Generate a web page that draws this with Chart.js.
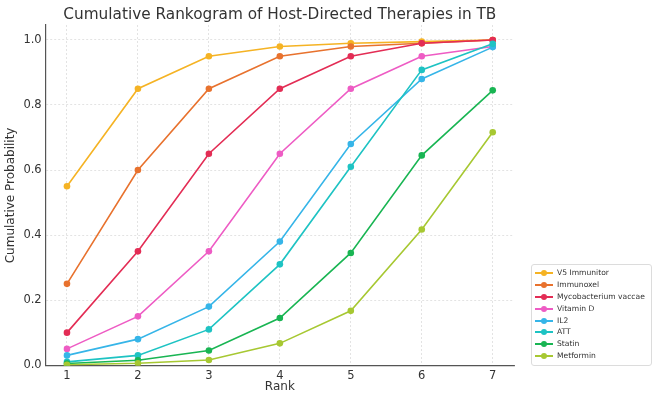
<!DOCTYPE html>
<html>
<head>
<meta charset="utf-8">
<script src="https://cdn.jsdelivr.net/npm/chart.js@4.4.1/dist/chart.umd.min.js"></script>
<style>
    html, body { margin: 0; padding: 0; background: #fff; }
    #wrap { position: relative; width: 655px; height: 394px; }
    #legend {
        position: absolute; left: 531px; top: 264px; width: 119px;
        border: 1px solid #dcdcdc; border-radius: 3px; background: #fff;
        padding: 2px 0 3px 0; font-family: "DejaVu Sans", sans-serif; font-size: 7.6px; color: #333;
    }
    .lg-row { position: relative; height: 11.9px; line-height: 11.9px; padding-left: 25px; white-space: nowrap; }
    .lg-line { position: absolute; left: 3px; top: 5px; width: 18px; height: 2px; }
    .lg-dot { position: absolute; left: 9px; top: 3px; width: 6px; height: 6px; border-radius: 50%; }
</style>
</head>
<body>
<div id="wrap">
    <canvas id="chart" width="655" height="394"></canvas>
    <div id="legend"></div>
</div>
<script>
// ==================== 数据 ====================
const ranks = [1, 2, 3, 4, 5, 6, 7];
const yTicks = [0, 0.2, 0.4, 0.6, 0.8, 1.0];

const therapyNames = ['V5 Immunitor', 'Immunoxel', 'Mycobacterium vaccae', 'Vitamin D', 'IL2', 'ATT', 'Statin', 'Metformin'];
const therapyColors = ['#f5b324', '#e8722e', '#e32d55', '#ee5cc4', '#36b5e8', '#1ec3c3', '#19b553', '#a7c832'];

const v5Immunitor = [0.55, 0.85, 0.95, 0.98, 0.99, 0.995, 1.0];
const immunoxel   = [0.25, 0.60, 0.85, 0.95, 0.98, 0.99, 1.0];
const mycoVaccae  = [0.10, 0.35, 0.65, 0.85, 0.95, 0.99, 1.0];
const vitaminD    = [0.05, 0.15, 0.35, 0.65, 0.85, 0.95, 0.98];
const il2         = [0.03, 0.08, 0.18, 0.38, 0.68, 0.88, 0.978];
const att         = [0.01, 0.03, 0.11, 0.31, 0.61, 0.908, 0.988];
const statin      = [0.005, 0.015, 0.045, 0.145, 0.345, 0.645, 0.845];
const metformin   = [0.001, 0.006, 0.016, 0.067, 0.167, 0.417, 0.716];

const seriesValues = [v5Immunitor, immunoxel, mycoVaccae, vitaminD, il2, att, statin, metformin];

// ==================== 数据集 ====================
const datasets = therapyNames.map((name, i) => ({
    label: name,
    data: ranks.map((r, j) => ({ x: r, y: seriesValues[i][j] })),
    borderColor: therapyColors[i],
    backgroundColor: therapyColors[i],
    borderWidth: 1.6,
    pointRadius: 3.3,
    pointBorderWidth: 0,
    tension: 0,
    order: therapyNames.length - i   // 后面的系列画在上面
}));

// ==================== 标题（居中于绘图区） ====================
const centerTitle = {
    id: 'centerTitle',
    afterDraw(chart) {
        const { ctx, chartArea } = chart;
        ctx.save();
        ctx.font = '15.3px "DejaVu Sans", sans-serif';
        ctx.fillStyle = '#333';
        ctx.textAlign = 'center';
        ctx.textBaseline = 'middle';
        ctx.fillText('Cumulative Rankogram of Host-Directed Therapies in TB', (chartArea.left + chartArea.right) / 2, 15);
        ctx.restore();
    }
};

const tickFont = { family: '"DejaVu Sans", sans-serif', size: 11.5 };

new Chart(document.getElementById('chart'), {
    type: 'line',
    data: { datasets: datasets },
    options: {
        responsive: false,
        animation: false,
        layout: { padding: { top: 25, right: 141, left: 0, bottom: 0 } },
        plugins: {
            legend: { display: false },
            tooltip: { enabled: false },
            title: { display: false }
        },
        scales: {
            x: {
                type: 'linear',
                min: 0.7,
                max: 7.3,
                afterBuildTicks: (axis) => { axis.ticks = ranks.map(v => ({ value: v })); },
                ticks: { color: '#333', font: tickFont, padding: 3, callback: v => String(v) },
                grid: { color: '#dcdcdc', lineWidth: 0.8, drawTicks: false },
                border: { display: true, color: '#555', width: 1.2, dash: [2, 2] },
                title: { display: true, text: 'Rank', color: '#333', font: { family: '"DejaVu Sans", sans-serif', size: 12 }, padding: { top: -6, bottom: 0 } }
            },
            y: {
                min: -0.002,
                max: 1.046,
                afterBuildTicks: (axis) => { axis.ticks = yTicks.map(v => ({ value: v })); },
                ticks: { color: '#333', font: tickFont, padding: 4, callback: v => v.toFixed(1) },
                grid: { color: '#dcdcdc', lineWidth: 0.8, drawTicks: false },
                border: { display: true, color: '#555', width: 1.2, dash: [2, 2] },
                title: { display: true, text: 'Cumulative Probability', color: '#333', font: { family: '"DejaVu Sans", sans-serif', size: 12 }, padding: { top: 4, bottom: 1 } }
            }
        }
    },
    plugins: [centerTitle]
});

// ==================== 图例 ====================
const legendEl = document.getElementById('legend');
therapyNames.forEach((name, i) => {
    const row = document.createElement('div');
    row.className = 'lg-row';
    row.innerHTML = `<span class="lg-line" style="background:${therapyColors[i]}"></span>` +
        `<span class="lg-dot" style="background:${therapyColors[i]}"></span>${name}`;
    legendEl.appendChild(row);
});
</script>
</body>
</html>
